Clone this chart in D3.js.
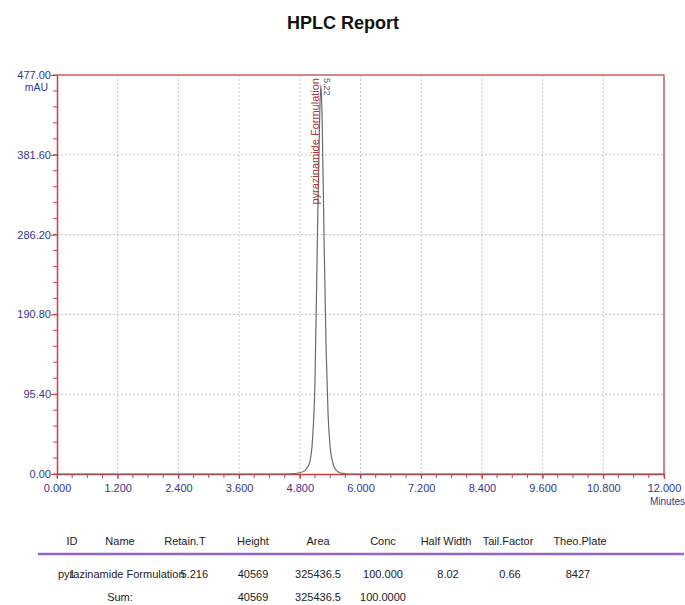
<!DOCTYPE html>
<html>
<head>
<meta charset="utf-8">
<title>HPLC Report</title>
<script src="https://d3js.org/d3.v7.min.js"></script>
<style>
  body { margin: 0; background: #fff; font-family: "Liberation Sans", Arial, sans-serif; }
  .tick text { font-family: "Liberation Sans", Arial, sans-serif; }
</style>
</head>
<body>
<script>
// chromatogram (minutes, mAU)
var times = [0, 4.5, 4.7, 4.8, 4.9, 4.95, 5.0, 5.05, 5.1, 5.15, 5.19, 5.216, 5.24, 5.28, 5.32, 5.36, 5.4, 5.45, 5.5, 5.55, 5.6, 5.7, 5.8, 12];
var absorb = [0, 0, 0.5, 1.5, 4, 8, 15, 40, 110, 290, 420, 465, 430, 280, 150, 70, 32, 14, 6, 3, 1.2, 0.3, 0, 0];

var yTickValues = [0, 95.4, 190.8, 286.2, 381.6, 477];
var xTickValues = [0, 1.2, 2.4, 3.6, 4.8, 6, 7.2, 8.4, 9.6, 10.8, 12];

// peak labels
var peakTime = 5.216;
var peakName = "pyrazinamide Formulation";
var peakLabel = "5.22";

// result table
var columns = ["ID", "Name", "Retain.T", "Height", "Area", "Conc", "Half Width", "Tail.Factor", "Theo.Plate"];
var row1 = ["1", "pyrazinamide Formulation", "5.216", "40569", "325436.5", "100.000", "8.02", "0.66", "8427"];
var sumRow = ["", "Sum:", "", "40569", "325436.5", "100.0000", "", "", ""];

var width = 685, height = 605;
var margin = {top: 75, left: 57, right: 21, bottom: 131};
var plotW = width - margin.left - margin.right;
var plotH = height - margin.top - margin.bottom;

var svg = d3.select("body").append("svg")
  .attr("width", width)
  .attr("height", height);

svg.append("text")
  .attr("x", 343)
  .attr("y", 29)
  .attr("text-anchor", "middle")
  .style("font-size", "18px")
  .style("font-weight", "bold")
  .attr("fill", "#111")
  .text("HPLC Report");

var g = svg.append("g")
  .attr("transform", "translate(" + margin.left + "," + margin.top + ")");

var x = d3.scaleLinear().domain([0, 12]).range([0, plotW]);
var y = d3.scaleLinear().domain([0, 477]).range([plotH, 0]);

// dotted grid
g.selectAll(".vgrid")
  .data(xTickValues.slice(1, -1))
  .enter().append("line")
  .attr("x1", function(d) { return x(d); })
  .attr("x2", function(d) { return x(d); })
  .attr("y1", 0).attr("y2", plotH)
  .attr("stroke", "#c8c8c8")
  .attr("stroke-dasharray", "2,2");

g.selectAll(".hgrid")
  .data(yTickValues.slice(1, -1))
  .enter().append("line")
  .attr("x1", 0).attr("x2", plotW)
  .attr("y1", function(d) { return y(d); })
  .attr("y2", function(d) { return y(d); })
  .attr("stroke", "#c8c8c8")
  .attr("stroke-dasharray", "2,2");

// top and right border
g.append("path")
  .attr("d", "M0,0H" + plotW + "V" + plotH)
  .attr("fill", "none")
  .attr("stroke", "#c56060")
  .attr("stroke-width", 1.5);

// minor ticks
var axisColor = "#d23c3c";
var xMinor = d3.range(0, 12.0001, 0.3);
var yMinor = d3.range(0, 477.001, 19.08);

g.selectAll(".xminor")
  .data(xMinor)
  .enter().append("line")
  .attr("x1", function(d) { return x(d); })
  .attr("x2", function(d) { return x(d); })
  .attr("y1", plotH).attr("y2", plotH + 4)
  .attr("stroke", axisColor);

g.selectAll(".yminor")
  .data(yMinor)
  .enter().append("line")
  .attr("x1", -4).attr("x2", 0)
  .attr("y1", function(d) { return y(d); })
  .attr("y2", function(d) { return y(d); })
  .attr("stroke", axisColor);

// axes
var xAxis = g.append("g")
  .attr("transform", "translate(0," + plotH + ")")
  .call(d3.axisBottom(x).tickValues(xTickValues).tickFormat(d3.format(".3f")).tickSize(5).tickSizeOuter(0));

var yAxis = g.append("g")
  .call(d3.axisLeft(y).tickValues(yTickValues).tickFormat(d3.format(".2f")).tickSize(6).tickSizeOuter(0));

[xAxis, yAxis].forEach(function(a) {
  a.select(".domain").attr("stroke", axisColor).attr("stroke-width", 1.5);
  a.selectAll(".tick line").attr("stroke", axisColor);
  a.selectAll(".tick text")
    .attr("fill", "#35358f")
    .style("font-size", "11px");
});
xAxis.selectAll(".tick text").attr("dy", "0.9em");
yAxis.selectAll(".tick text").attr("x", -6);

// unit labels
g.append("text")
  .attr("x", -9).attr("y", 16)
  .attr("text-anchor", "end")
  .attr("fill", "#35358f")
  .style("font-size", "10.5px")
  .text("mAU");

g.append("text")
  .attr("x", plotW + 21).attr("y", plotH + 31)
  .attr("text-anchor", "end")
  .attr("fill", "#35358f")
  .style("font-size", "10px")
  .text("Minutes");

// chromatogram trace
var points = times.map(function(t, i) { return [t, absorb[i]]; });
g.append("path")
  .datum(points)
  .attr("fill", "none")
  .attr("stroke", "#6a6a6a")
  .attr("stroke-width", 1.2)
  .attr("d", d3.line()
    .x(function(d) { return x(d[0]); })
    .y(function(d) { return y(d[1]); })
    .curve(d3.curveMonotoneX));

// peak annotations
g.append("text")
  .attr("transform", "translate(" + (x(peakTime) - 2) + "," + 3 + ") rotate(-90)")
  .attr("text-anchor", "end")
  .attr("fill", "#a83838")
  .style("font-size", "11px")
  .text(peakName);

g.append("text")
  .attr("transform", "translate(" + (x(peakTime) + 3) + "," + 3 + ") rotate(90)")
  .attr("text-anchor", "start")
  .attr("fill", "#555")
  .style("font-size", "9px")
  .text(peakLabel);

// result table
var colX = [72, 120, 185, 253, 318, 383, 446, 508, 580];

var table = svg.append("g")
  .style("font-size", "11px")
  .attr("fill", "#222");

table.selectAll(".head")
  .data(columns)
  .enter().append("text")
  .attr("x", function(d, i) { return colX[i]; })
  .attr("y", 545)
  .attr("text-anchor", "middle")
  .text(function(d) { return d; });

table.append("line")
  .attr("x1", 38).attr("x2", 684)
  .attr("y1", 554).attr("y2", 554)
  .attr("stroke", "#9466cc")
  .attr("stroke-width", 2.5);

// row 1: name left aligned, retention time right aligned (they overlap as in the print)
var row1X = [72, 58, 208, 253, 318, 383, 448, 510, 578];
var row1Anchor = ["middle", "start", "end", "middle", "middle", "middle", "middle", "middle", "middle"];
table.selectAll(".r1")
  .data(row1)
  .enter().append("text")
  .attr("x", function(d, i) { return row1X[i]; })
  .attr("y", 578)
  .attr("text-anchor", function(d, i) { return row1Anchor[i]; })
  .text(function(d) { return d; });

table.selectAll(".sum")
  .data(sumRow)
  .enter().append("text")
  .attr("x", function(d, i) { return colX[i]; })
  .attr("y", 601)
  .attr("text-anchor", "middle")
  .text(function(d) { return d; });
</script>
</body>
</html>
